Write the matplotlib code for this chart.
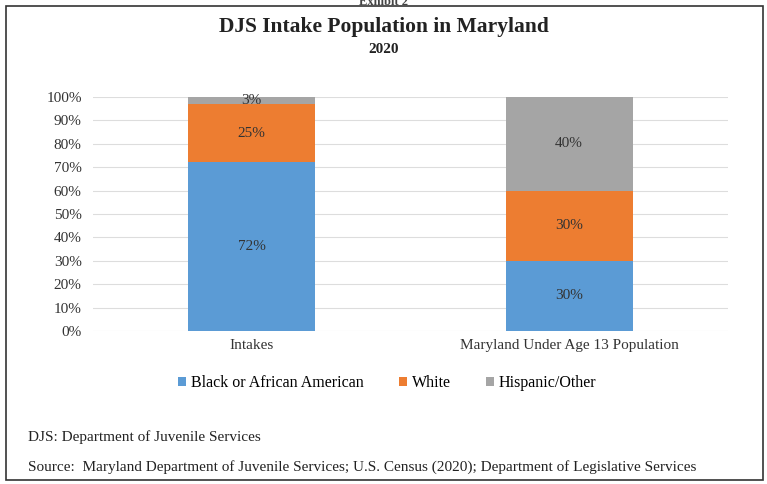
import matplotlib
matplotlib.use('agg')
import matplotlib.pyplot as plt
import numpy as np

categories = ['Intakes', 'Maryland Under Age 13 Population']
series = ['Black or African American', 'White', 'Hispanic/Other']
black = [72, 30]
white = [25, 30]
hispanic = [3, 40]
colors = ['#5B9BD5', '#ED7D31', '#A5A5A5']

plt.rcParams['font.family'] = ['Liberation Serif', 'DejaVu Serif']

fig = plt.figure(figsize=(7.67, 4.84), dpi=100)
fig.patch.set_facecolor('white')
ax = fig.add_axes([0.121, 0.316, 0.828, 0.484])

x = np.arange(len(categories))
bottom = np.zeros(len(categories))
for name, vals, c in zip(series, [black, white, hispanic], colors):
    vals = np.array(vals)
    ax.bar(x, vals, 0.4, bottom=bottom, color=c, label=name, zorder=2)
    for xi, b, v in zip(x, bottom, vals):
        ax.text(xi, b + v / 2, '%d%%' % v, ha='center', va='center',
                fontsize=11, color='#333333', zorder=3)
    bottom += vals

ax.set_xlim(-0.5, 1.5)
ax.set_ylim(0, 100)
ax.set_yticks(range(0, 101, 10))
ax.set_yticklabels(['%d%%' % t for t in range(0, 101, 10)])
ax.set_xticks(x)
ax.set_xticklabels(categories)
ax.tick_params(length=0, labelsize=11, colors='#333333', pad=8)
ax.tick_params(axis='x', pad=6)
ax.grid(axis='y', color='#dddddd', lw=0.8, zorder=0)
for s in ax.spines.values():
    s.set_visible(False)

fig.text(0.5, 0.944, 'DJS Intake Population in Maryland', ha='center', va='center',
         fontsize=15.5, fontweight='bold', color='#222222')
fig.text(0.5, 0.897, '2020', ha='center', va='center',
         fontsize=11, fontweight='bold', color='#222222')
fig.text(0.5, 0.995, 'Exhibit 2', ha='center', va='center',
         fontsize=9, fontweight='bold', color='#444444')

fig.legend(loc='center', bbox_to_anchor=(0.505, 0.209), ncol=3, frameon=False,
           fontsize=11.5, handlelength=0.5, handleheight=0.5, handletextpad=0.3,
           columnspacing=2.2)

fig.text(0.037, 0.097, 'DJS: Department of Juvenile Services', ha='left', va='center',
         fontsize=11, color='#222222')
fig.text(0.037, 0.035, 'Source:  Maryland Department of Juvenile Services; U.S. Census (2020); '
         'Department of Legislative Services', ha='left', va='center',
         fontsize=11, color='#222222')

border = plt.Rectangle((0.008, 0.008), 0.987, 0.98, transform=fig.transFigure,
                       fill=False, edgecolor='#333333', lw=1.2)
fig.add_artist(border)

fig.savefig('out.png', dpi=100)
